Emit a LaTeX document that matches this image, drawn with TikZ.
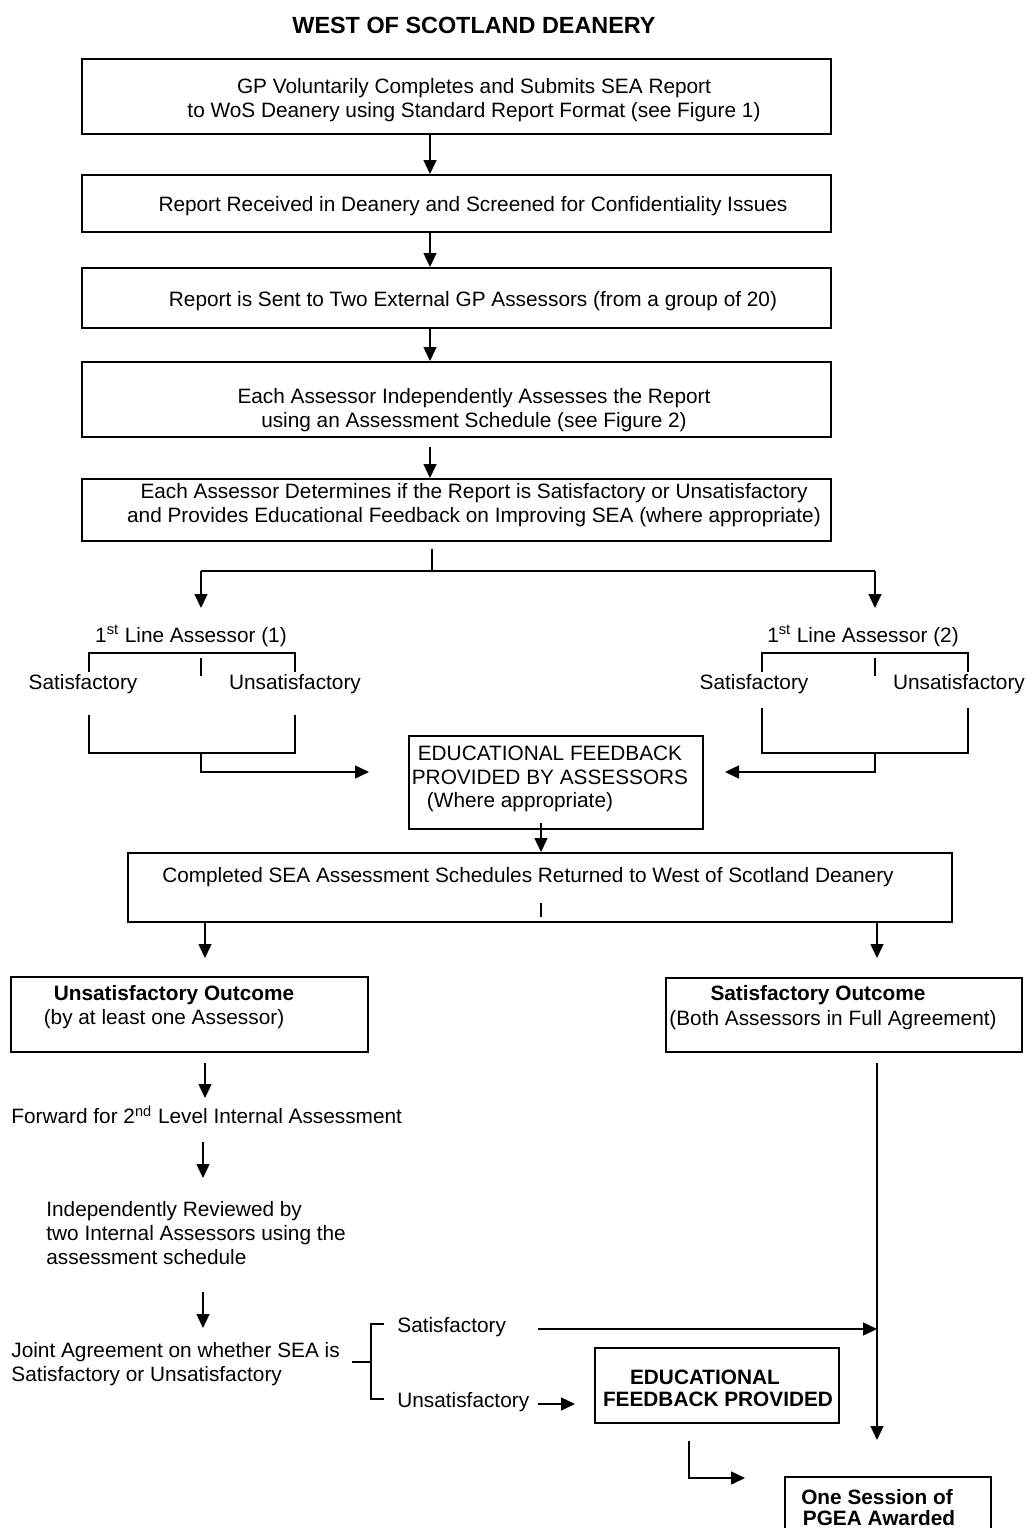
\documentclass[tikz,border=0pt]{standalone}
\usepackage{fontspec}
\setmainfont{Liberation Sans}
\usetikzlibrary{arrows.meta,calc}
\begin{document}
\begin{tikzpicture}[x=0.5pt,y=-0.5pt,
  every node/.style={inner sep=0pt, font=\fontsize{10.4}{11.8}\selectfont},
  box/.style={draw, line width=1pt, rectangle},
  ln/.style={line width=0.7pt},
  arr/.style={line width=0.7pt, -{Triangle[length=7pt,width=6.5pt]}},
  txt/.style={align=center},
  ltxt/.style={align=left, anchor=west},
  bold/.style={font=\fontsize{10.4}{11.8}\selectfont\bfseries},
]
\useasboundingbox (0,0) rectangle (1027,1528);
\clip (0,0) rectangle (1027,1528);

% title
\node[font=\fontsize{11.7}{14}\selectfont\bfseries] (title) at (474,25) {WEST OF SCOTLAND DEANERY};

% main boxes
\node[box, minimum width=374.5pt, minimum height=37.5pt] (b1) at (456.5,96.5) {};
\node[box, minimum width=374.5pt, minimum height=28.5pt] (b2) at (456.5,203.5) {};
\node[box, minimum width=374.5pt, minimum height=30pt] (b3) at (456.5,298) {};
\node[box, minimum width=374.5pt, minimum height=37.5pt] (b4) at (456.5,399.5) {};
\node[box, minimum width=374.5pt, minimum height=31pt] (b5) at (456.5,510) {};

\node[txt] (t1) at (474,100) {GP Voluntarily Completes and Submits SEA Report\\to WoS Deanery using Standard Report Format (see Figure 1)};
\node[txt] (t2) at (473,206) {Report Received in Deanery and Screened for Confidentiality Issues};
\node[txt] (t3) at (473,301) {Report is Sent to Two External GP Assessors (from a group of 20)};
\node[txt] (t4) at (474,410) {Each Assessor Independently Assesses the Report\\using an Assessment Schedule (see Figure 2)};
\node[txt] (t5) at (474,505) {Each Assessor Determines if the Report is Satisfactory or Unsatisfactory\\and Provides Educational Feedback on Improving SEA (where appropriate)};

\coordinate (ax) at (430,0);
\draw[arr] (b1.south -| ax) -- (b2.north -| ax);
\draw[arr] (b2.south -| ax) -- (b3.north -| ax);
\draw[arr] (b3.south -| ax) -- (b4.north -| ax);
\coordinate (c4) at (430,447);
\draw[arr] (c4) -- (b5.north -| c4);

% split
\coordinate (c5a) at (432,549);
\coordinate (c5b) at (432,571);
\draw[ln] (c5a) -- (c5b);
\coordinate (sL) at (201,571);
\coordinate (sR) at (875,571);
\coordinate (aL) at (201,608);
\coordinate (aR) at (875,608);
\draw[ln] (sL) -- (sR);
\draw[arr] (sL) -- (aL);
\draw[arr] (sR) -- (aR);

% assessor 1
\node (la1) at (191,636) {1\textsuperscript{st} Line Assessor (1)};
\node (s1) at (83,684) {Satisfactory};
\node (u1) at (295,684) {Unsatisfactory};
\draw[ln] (89,672) |- (295,653) -- (295,672);
\draw[ln] (201,658) -- (201,676);
\draw[ln] (89,715) |- (295,753) -- (295,715);
\coordinate (m1) at (201,753);
\coordinate (e1) at (369,772);
\draw[arr] (m1) |- (e1);

% assessor 2
\node (la2) at (863,636) {1\textsuperscript{st} Line Assessor (2)};
\node (s2) at (754,684) {Satisfactory};
\node (u2) at (959,684) {Unsatisfactory};
\draw[ln] (762,672) |- (968,653) -- (968,672);
\draw[ln] (875,658) -- (875,676);
\draw[ln] (762,708) |- (968,753) -- (968,708);
\coordinate (m2) at (875,753);
\coordinate (e2) at (725,772);
\draw[arr] (m2) |- (e2);

% educational feedback box
\node[box, minimum width=147pt, minimum height=46.5pt] (eb) at (556,782.5) {};
\node[txt] (et) at (550,779) {EDUCATIONAL FEEDBACK\\PROVIDED BY ASSESSORS\\\hspace*{-30pt}(Where appropriate)};

% completed box
\node[box, minimum width=412pt, minimum height=34.5pt] (b6) at (540,887.5) {};
\node (t6) at (528,877) {Completed SEA Assessment Schedules Returned to West of Scotland Deanery};
\coordinate (f1) at (541,823);
\draw[arr] (f1) -- (b6.north -| f1);
\draw[ln] (541,903) -- (541,917);

\coordinate (dl) at (205,958);
\coordinate (dr) at (877,958);
\draw[arr] (b6.south -| dl) -- (dl);
\draw[arr] (b6.south -| dr) -- (dr);

% outcome boxes
\node[box, minimum width=178.5pt, minimum height=37.5pt] (b7) at (189.5,1014.5) {};
\node[bold] (t7a) at (174,995) {Unsatisfactory Outcome};
\node (t7b) at (164,1019) {(by at least one Assessor)};
\node[box, minimum width=178pt, minimum height=37pt] (b8) at (844,1015) {};
\node[bold] (t8a) at (818,995) {Satisfactory Outcome};
\node (t8b) at (833,1020) {(Both Assessors in Full Agreement)};

% left column
\coordinate (g1) at (205,1063);
\coordinate (g2) at (205,1098);
\draw[arr] (g1) -- (g2);
\node[ltxt] (fw) at (11,1115) {Forward for 2\textsuperscript{nd} Level Internal Assessment};
\coordinate (g3) at (203,1142);
\coordinate (g4) at (203,1178);
\draw[arr] (g3) -- (g4);
\node[ltxt] (ir) at (46,1233) {Independently Reviewed by\\two Internal Assessors using the\\assessment schedule};
\coordinate (g5) at (203,1292);
\coordinate (g6) at (203,1328);
\draw[arr] (g5) -- (g6);
\node[ltxt] (ja) at (11,1364) {Joint Agreement on whether SEA is\\Satisfactory or Unsatisfactory};

% bracket
\draw[ln] (352,1362) -- (371,1362);
\draw[ln] (384,1324) -- (371,1324) -- (371,1399) -- (384,1399);
\node[ltxt] (js) at (397,1327) {Satisfactory};
\node[ltxt] (ju) at (397,1402) {Unsatisfactory};

% right column
\coordinate (r1) at (877,1063);
\coordinate (r2) at (877,1440);
\draw[arr] (r1) -- (r2);
\coordinate (h1) at (538,1329);
\coordinate (h2) at (877,1329);
\draw[arr] (h1) -- (h2);
\coordinate (k1) at (538,1404);
\coordinate (k2) at (575,1404);
\draw[arr] (k1) -- (k2);

% feedback provided
\node[box, minimum width=122pt, minimum height=37.5pt] (b9) at (717,1385.5) {};
\node[bold] (t9a) at (705,1377) {EDUCATIONAL};
\node[bold] (t9b) at (718,1399) {FEEDBACK PROVIDED};
\coordinate (p1) at (689,1441);
\coordinate (p2) at (745,1478);
\draw[arr] (p1) |- (p2);

% PGEA
\node[box, minimum width=103pt, minimum height=41.5pt] (b10) at (888,1518.5) {};
\node[bold] (t10a) at (877,1497) {One Session of};
\node[bold] (t10b) at (879,1518) {PGEA Awarded};
\end{tikzpicture}
\end{document}
